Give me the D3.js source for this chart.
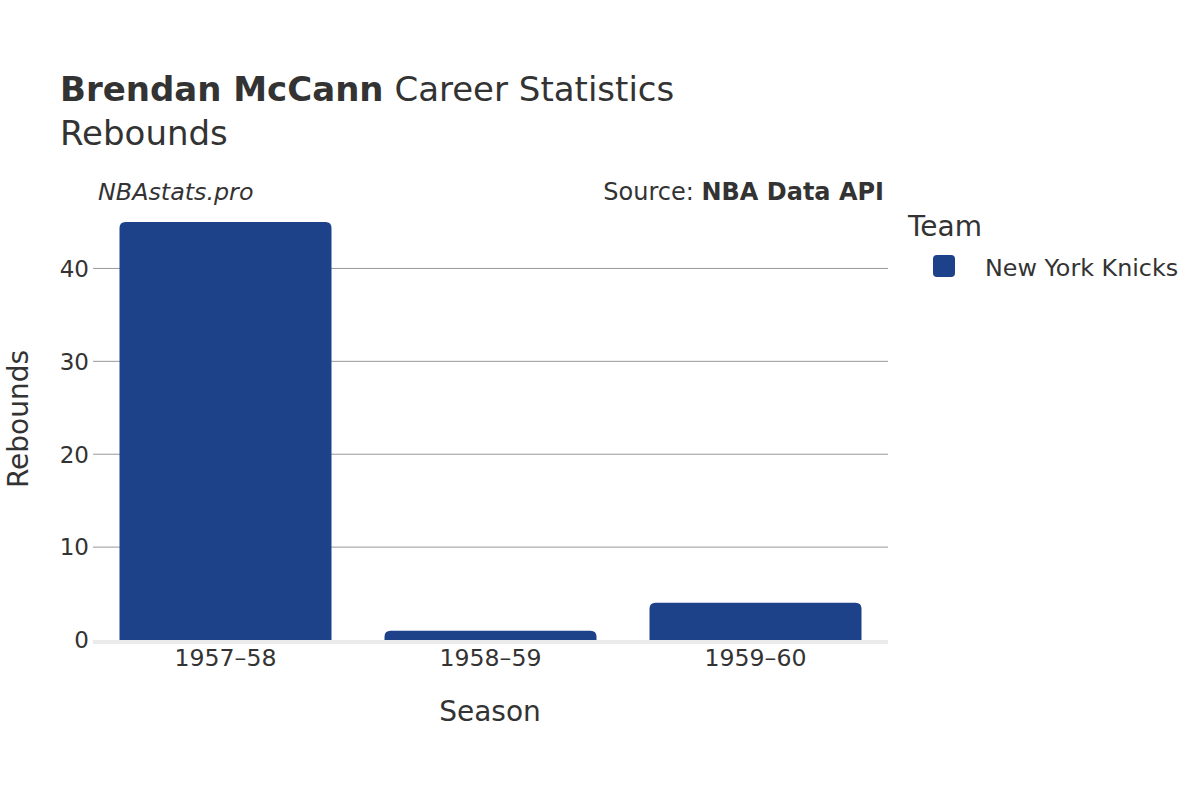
<!DOCTYPE html>
<html><head><meta charset="utf-8">
<script src="https://cdn.jsdelivr.net/npm/d3@7"></script>
<style>body{margin:0;background:#fff;} text{font-family:"DejaVu Sans",sans-serif;fill:#333;}</style>
</head><body>
<svg id="c" width="1200" height="800"></svg>
<script>
const seasons = ["1957–58", "1958–59", "1959–60"];
const rebounds = [45, 1, 4];
const yTicks = [0, 10, 20, 30, 40];
const teamName = "New York Knicks";
const teamColor = "#1d428a";

const svg = d3.select("#c");
const m = {l: 93, r: 888, t: 222, b: 640};
const x = d3.scaleBand().domain(seasons).range([m.l, m.r]).paddingInner(0.2).paddingOuter(0.1);
const y = d3.scaleLinear().domain([0, 45]).range([m.b, m.t]);

// grid
svg.append("g").selectAll("line").data(yTicks.filter(d => d > 0)).join("line")
  .attr("x1", m.l).attr("x2", m.r).attr("y1", d => y(d)).attr("y2", d => y(d))
  .attr("stroke", "#999").attr("stroke-width", 1);
// y tick labels
svg.append("g").selectAll("text").data(yTicks).join("text")
  .attr("x", 89).attr("y", d => y(d)).attr("dy", "0.36em").attr("text-anchor", "end")
  .attr("font-size", 23).text(d => d);

// bars with rounded top
function barPath(x0, w, yTop, yBot, r) {
  r = Math.min(r, (yBot - yTop), w / 2);
  return `M${x0},${yBot}V${yTop + r}Q${x0},${yTop} ${x0 + r},${yTop}H${x0 + w - r}Q${x0 + w},${yTop} ${x0 + w},${yTop + r}V${yBot}Z`;
}
svg.append("g").selectAll("path").data(seasons).join("path")
  .attr("d", (s, i) => barPath(x(s), x.bandwidth(), y(rebounds[i]), y(0), 6))
  .attr("fill", teamColor);

// zero line
svg.append("line").attr("x1", m.l).attr("x2", m.r).attr("y1", y(0) + 2).attr("y2", y(0) + 2)
  .attr("stroke", "#ebebeb").attr("stroke-width", 4);

// x tick labels
svg.append("g").selectAll("text").data(seasons).join("text")
  .attr("x", s => x(s) + x.bandwidth() / 2).attr("y", 666).attr("text-anchor", "middle")
  .attr("font-size", 23.6).text(s => s);

// axis titles
svg.append("text").attr("x", 490).attr("y", 721).attr("text-anchor", "middle").attr("font-size", 28).text("Season");
svg.append("text").attr("transform", "translate(28,419) rotate(-90)").attr("text-anchor", "middle").attr("font-size", 28).text("Rebounds");

// title
const t = svg.append("text").attr("x", 60).attr("y", 101).attr("font-size", 34);
t.append("tspan").attr("font-weight", "bold").text("Brendan McCann");
t.append("tspan").text(" Career Statistics");
svg.append("text").attr("x", 60).attr("y", 145).attr("font-size", 34).text("Rebounds");

svg.append("text").attr("x", 98).attr("y", 200).attr("font-size", 23.8).attr("font-style", "italic").text("NBAstats.pro");
const src = svg.append("text").attr("x", 884).attr("y", 200).attr("font-size", 24).attr("text-anchor", "end");
src.append("tspan").text("Source: ");
src.append("tspan").attr("font-weight", "bold").text("NBA Data API");

// legend
svg.append("text").attr("x", 908).attr("y", 236).attr("font-size", 28).text("Team");
svg.append("rect").attr("x", 933).attr("y", 255).attr("width", 22).attr("height", 22).attr("rx", 4).attr("fill", teamColor);
svg.append("text").attr("x", 985).attr("y", 267).attr("dy", "0.36em").attr("font-size", 23.8).text(teamName);
</script>
</body></html>
